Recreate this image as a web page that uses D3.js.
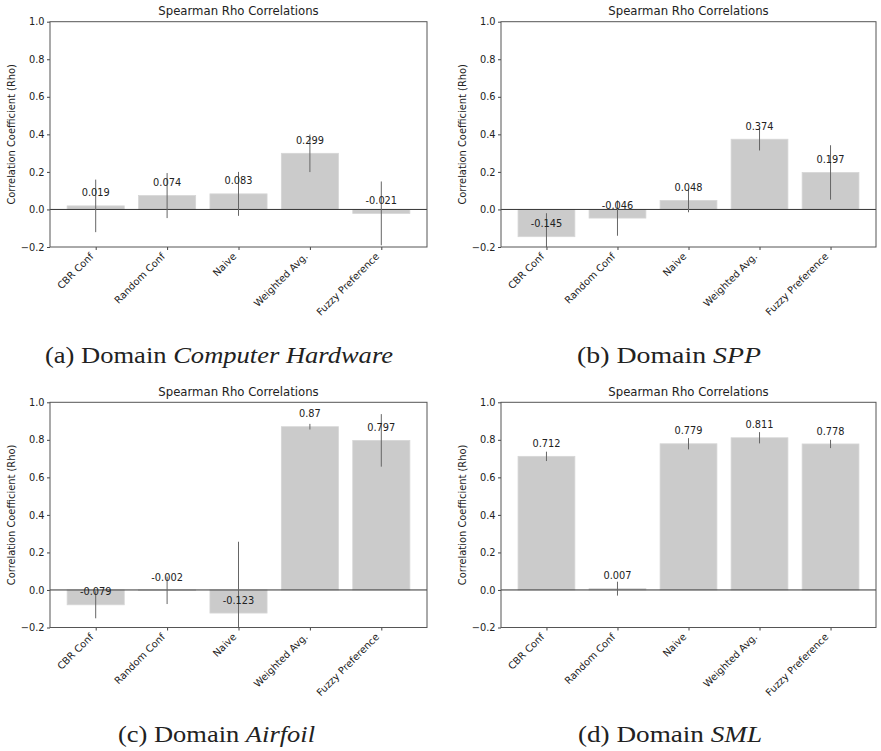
<!DOCTYPE html>
<html>
<head>
<meta charset="utf-8">
<script src="https://cdn.jsdelivr.net/npm/d3@7"></script>
<style>
  body { margin: 0; background: #fff; }
  svg { display: block; }
</style>
</head>
<body>
<script>
// categories, shared by the four panels
var methods = ["CBR Conf", "Random Conf", "Naive", "Weighted Avg.", "Fuzzy Preference"];
var yTicks = [-0.2, 0.0, 0.2, 0.4, 0.6, 0.8, 1.0];

// mean rho and error bar half length per domain
var hardwareRho = [0.019, 0.074, 0.083, 0.299, -0.021];
var hardwareErr = [0.14, 0.12, 0.117, 0.10, 0.17];
var sppRho = [-0.145, -0.046, 0.048, 0.374, 0.197];
var sppErr = [0.125, 0.094, 0.063, 0.06, 0.145];
var airfoilRho = [-0.079, -0.002, -0.123, 0.87, 0.797];
var airfoilErr = [0.072, 0.073, 0.38, 0.015, 0.14];
var smlRho = [0.712, 0.007, 0.779, 0.811, 0.778];
var smlErr = [0.025, 0.037, 0.03, 0.03, 0.022];

var captions = [
    {tag: "(a) Domain ", name: "Computer Hardware"},
    {tag: "(b) Domain ", name: "SPP"},
    {tag: "(c) Domain ", name: "Airfoil"},
    {tag: "(d) Domain ", name: "SML"}
];

var W = 881, H = 751;
var svg = d3.select("body").append("svg").attr("width", W).attr("height", H);

var font = "'DejaVu Sans', sans-serif";

// where each panel sits
var panels = [
    {rho: hardwareRho, err: hardwareErr, left: 50, right: 427, top: 21.7, bottom: 247, cx: 45, cw: 348, cy: 363},
    {rho: sppRho, err: sppErr, left: 501, right: 876, top: 21.7, bottom: 247, cx: 577, cw: 184, cy: 363},
    {rho: airfoilRho, err: airfoilErr, left: 50, right: 427, top: 402.3, bottom: 627.5, cx: 118, cw: 197, cy: 742},
    {rho: smlRho, err: smlErr, left: 501, right: 876, top: 402.3, bottom: 627.5, cx: 578, cw: 184, cy: 742}
];

function drawPanel(p, k) {
    var w = p.right - p.left, h = p.bottom - p.top;
    var g = svg.append("g").attr("transform", "translate(" + p.left + "," + p.top + ")");

    var x = d3.scaleLinear().domain([-0.64, 4.64]).range([0, w]);
    var y = d3.scaleLinear().domain([-0.2, 1.0]).range([h, 0]);
    var bw = x(0.8) - x(0);

    g.append("clipPath").attr("id", "clip" + k)
        .append("rect").attr("width", w).attr("height", h);

    var plot = g.append("g").attr("clip-path", "url(#clip" + k + ")");

    plot.selectAll("rect.bar").data(p.rho).enter().append("rect")
        .attr("class", "bar")
        .attr("x", function(d, i) { return x(i) - bw / 2; })
        .attr("width", bw)
        .attr("y", function(d) { return y(Math.max(d, 0)); })
        .attr("height", function(d) { return Math.abs(y(d) - y(0)); })
        .attr("fill", "#cbcbcb")
        .attr("stroke", "#d6d6d6")
        .attr("stroke-width", 0.8);

    // zero line
    plot.append("line")
        .attr("x1", 0).attr("x2", w)
        .attr("y1", y(0)).attr("y2", y(0))
        .attr("stroke", "#333").attr("stroke-width", 1);

    plot.selectAll("line.err").data(p.rho).enter().append("line")
        .attr("class", "err")
        .attr("x1", function(d, i) { return x(i); })
        .attr("x2", function(d, i) { return x(i); })
        .attr("y1", function(d, i) { return y(d + p.err[i]); })
        .attr("y2", function(d, i) { return y(d - p.err[i]); })
        .attr("stroke", "#666").attr("stroke-width", 1);

    plot.selectAll("text.val").data(p.rho).enter().append("text")
        .attr("class", "val")
        .attr("x", function(d, i) { return x(i); })
        .attr("y", function(d) { return y(d + 0.05); })
        .attr("text-anchor", "middle")
        .attr("font-family", font).attr("font-size", 9.8)
        .attr("fill", "#222")
        .text(function(d) { return String(d); });

    // y axis
    var ya = g.append("g").call(d3.axisLeft(y).tickValues(yTicks).tickSize(3).tickPadding(2.5).tickFormat(d3.format(".1f")));
    ya.select(".domain").remove();
    ya.selectAll("line").attr("stroke", "#444");
    ya.selectAll("text").attr("font-family", font).attr("font-size", 9.8).attr("fill", "#222");

    // x axis
    var xa = g.append("g").attr("transform", "translate(0," + h + ")")
        .call(d3.axisBottom(x).tickValues([0, 1, 2, 3, 4]).tickSize(3).tickFormat(""));
    xa.select(".domain").remove();
    xa.selectAll("line").attr("stroke", "#444");

    g.selectAll("text.xlab").data(methods).enter().append("text")
        .attr("class", "xlab")
        .attr("transform", function(d, i) { return "translate(" + (x(i) - 1.5) + "," + (h + 10) + ") rotate(-45)"; })
        .attr("text-anchor", "end")
        .attr("font-family", font).attr("font-size", 9.9)
        .attr("fill", "#222")
        .text(function(d) { return d; });

    // spines
    g.append("rect").attr("width", w).attr("height", h)
        .attr("fill", "none").attr("stroke", "#555").attr("stroke-width", 1);

    g.append("text")
        .attr("x", w / 2).attr("y", -6.5)
        .attr("text-anchor", "middle")
        .attr("font-family", font).attr("font-size", 11.7)
        .attr("fill", "#222")
        .text("Spearman Rho Correlations");

    g.append("text")
        .attr("transform", "translate(" + (-35.5) + "," + (h / 2) + ") rotate(-90)")
        .attr("text-anchor", "middle")
        .attr("font-family", font).attr("font-size", 9.9)
        .attr("fill", "#222")
        .text("Correlation Coefficient (Rho)");

    var cap = svg.append("text")
        .attr("x", p.cx).attr("y", p.cy)
        .attr("font-family", "'Liberation Serif', serif").attr("font-size", 23)
        .attr("fill", "#222")
        .attr("textLength", p.cw).attr("lengthAdjust", "spacingAndGlyphs");
    cap.append("tspan").text(captions[k].tag);
    cap.append("tspan").attr("font-style", "italic").text(captions[k].name);
}

panels.forEach(drawPanel);
</script>
</body>
</html>
